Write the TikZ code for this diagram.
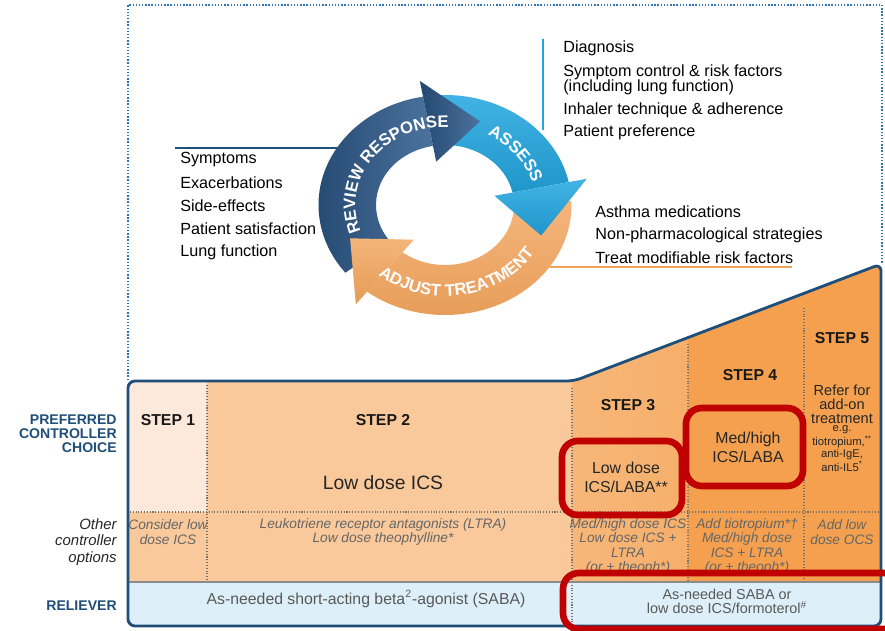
\documentclass[tikz,border=0pt]{standalone}
\usepackage{fontspec}
\setmainfont{Liberation Sans}
\usetikzlibrary{positioning,decorations.text}
\definecolor{navy}{HTML}{1F4E79}
\definecolor{cycrev}{HTML}{2C5A8C}
\definecolor{cycass}{HTML}{22A6E0}
\definecolor{cycadj}{HTML}{F2A35A}
\definecolor{pale}{HTML}{FDE9DB}
\definecolor{peach}{HTML}{F9C99B}
\definecolor{tang}{HTML}{F6AF6A}
\definecolor{deep}{HTML}{F4A04E}
\definecolor{sky}{HTML}{DDEFF9}
\definecolor{redx}{HTML}{C00000}
\definecolor{frameblue}{HTML}{2E75B6}
\newcommand{\fs}[2]{\fontsize{#1}{#2}\selectfont}
% ring segment of the cycle and its arrow head
\newcommand{\ringbody}[3]{\shade[#3] (#1:60) arc[start angle=#1,end angle=#2,radius=60] -- (#2:110) arc[start angle=#2,end angle=#1,radius=110] -- cycle;}
\newcommand{\ringhead}[3]{\shade[#3] (#1:44) -- (#1:126) -- (#2:89) -- cycle;}
\tikzset{
  item/.style={anchor=west,inner sep=0pt,font=\fs{9.2}{10}},
  steplbl/.style={font=\bfseries\fs{9}{10},text=black!90},
  choice/.style={align=center,font=\fs{9}{10.8},text=black!85},
  opt/.style={align=center,font=\itshape\fs{7.8}{8.2},text=black!60,inner sep=0pt},
  rowlbl/.style={anchor=east,align=right,font=\bfseries\fs{8}{8},text=navy,inner sep=0pt},
  dotln/.style={draw=black!55,densely dotted,line width=0.6pt},
  redbox/.style={draw=redx,line width=3.8pt,rounded corners=9pt},
  revshade/.style={left color=cycrev!80!black,right color=cycrev!85!white},
  assshade/.style={top color=cycass!85!white,bottom color=cycass!90!black},
  adjshade/.style={top color=cycadj!80!white,bottom color=cycadj!95!black},
  ringtxt/.style={decorate,decoration={text along path,text align=center,text color=white,text={#1}}},
}

\begin{document}
\begin{tikzpicture}[x=0.02cm,y=-0.02cm]
  \useasboundingbox (0,0) rectangle (885,631);
  \draw[frameblue,densely dotted,line width=0.8pt] (128,380) -- (128,5) -- (882,5) -- (882,264);

  % guide lines of the three lists
  \coordinate (revL) at (175,148);
  \coordinate (revR) at (345,148);
  \coordinate (assT) at (543,39);
  \coordinate (assB) at (543,130);
  \coordinate (adjL) at (550,267);
  \coordinate (adjR) at (792,267);
  \draw[navy,line width=0.9pt] (revL) -- (revR);
  \draw[cycass,line width=1pt] (assT) -- (assB);
  \draw[cycadj,line width=1.4pt] (adjL) -- (adjR);

  % the cycle
  \begin{scope}[shift={(445,205)},xscale=1.15,yscale=-1]
    \ringbody{2}{-128}{adjshade}
    \ringbody{92}{12}{assshade}
    \ringbody{218}{100}{revshade}
    \ringhead{100}{70}{revshade}
    \ringhead{12}{-20}{assshade}
    \ringhead{-128}{-158}{adjshade}
    \path[ringtxt={|\bfseries\fs{9.5}{11}|REVIEW RESPONSE}]
      (230:78) arc[start angle=230,end angle=60,radius=78];
    \path[ringtxt={|\bfseries\fs{9.5}{11}|ASSESS}]
      (78:79) arc[start angle=78,end angle=-2,radius=79];
    \path[ringtxt={|\bfseries\fs{9.5}{11}|ADJUST TREATMENT}]
      (-170:91) arc[start angle=-170,end angle=10,radius=91];
  \end{scope}

  \foreach \t [count=\i] in {Symptoms,Exacerbations,Side-effects,Patient satisfaction,Lung function}
    \node[item] (rv\i) at (180,{137+23*\i}) {\t};
  \node[item] (dx) at (563,48) {Diagnosis};
  \node[item,align=left,font=\fs{9.2}{8.6}] (sc) at (563,79.5) {Symptom control \& risk factors\\(including lung function)};
  \node[item] (ih) at (563,110) {Inhaler technique \& adherence};
  \node[item] (pp) at (563,132) {Patient preference};
  \node[item] (am) at (595,212) {Asthma medications};
  \node[item] (np) at (595,235) {Non-pharmacological strategies};
  \node[item] (tm) at (595,258) {Treat modifiable risk factors};

  % treatment steps
  \begin{scope}
    \clip[rounded corners=4pt] (128,626) -- (128,381) -- (574,381) -- (881,264) -- (881,626) -- cycle;
    \fill[pale] (128,250) rectangle (207,512);
    \fill[peach] (128,512) rectangle (572,582);
    \fill[peach] (207,250) rectangle (572,512);
    \shade[left color=tang!70!peach,right color=tang] (572,250) rectangle (688,582);
    \fill[deep] (688,250) rectangle (882,582);
    \fill[sky] (128,582) rectangle (882,626);
  \end{scope}
  \draw[dotln] (207,385) -- (207,582);
  \draw[dotln] (572,388) -- (572,626);
  \draw[dotln] (688,344) -- (688,582);
  \draw[dotln] (804,308) -- (804,582);
  \draw[dotln] (130,512) -- (880,512);
  \draw[black!45,line width=0.6pt] (128,582) -- (881,582);
  \draw[navy,line width=1.6pt,rounded corners=4pt] (128,626) -- (128,381) -- (574,381) -- (881,264) -- (881,626) -- cycle;

  \node[steplbl] (s1) at (168,420) {STEP 1};
  \node[steplbl] (s2) at (383,420) {STEP 2};
  \node[steplbl] (s3) at (628,405) {STEP 3};
  \node[steplbl] (s4) at (750,375) {STEP 4};
  \node[steplbl] (s5) at (842,338) {STEP 5};

  \node[choice,font=\fs{11}{13}] (c2) at (383,483) {Low dose ICS};
  \node[choice,font=\fs{9}{10.8}] (c3) at (626,477.5) {Low dose\\ICS/LABA**};
  \node[choice,font=\fs{9}{10.8}] (c4) at (748,447.5) {Med/high\\ICS/LABA};
  \node[choice,font=\fs{8.3}{8}] (c5) at (842,404) {Refer for\\add-on\\treatment};
  \node[choice,font=\fs{6.4}{6.6}] (c5x) at (842,448.5) {e.g.\\tiotropium,\textsuperscript{**}\\anti-IgE,\\anti-IL5\textsuperscript{*}};

  \node[opt] (o1) at (168,532) {Consider low\\dose ICS};
  \node[opt] (o2) at (383,532) {Leukotriene receptor antagonists (LTRA)\\Low dose theophylline*};
  \node[opt] (o3) at (628,546.5) {Med/high dose ICS\\Low dose ICS +\\LTRA\\(or + theoph*)};
  \node[opt] (o4) at (747,546.5) {Add tiotropium*†\\Med/high dose\\ICS + LTRA\\(or + theoph*)};
  \node[opt] (o5) at (842,532) {Add low\\dose OCS};

  \node[choice,text=black!65] (r1) at (366,599) {As-needed short-acting beta\textsuperscript{2}-agonist (SABA)};
  \node[choice,text=black!65,font=\fs{8.2}{7.7}] (r2) at (727,601.5) {As-needed SABA or\\low dose ICS/formoterol\textsuperscript{\#}};

  \node[rowlbl] (pref) at (117,434) {PREFERRED\\CONTROLLER\\CHOICE};
  \node[rowlbl,font=\itshape\fs{8.5}{9.2},text=black!85] (other) at (117,542) {Other\\controller\\options};
  \node[rowlbl] (relv) at (117,606) {RELIEVER};

  \draw[redbox] (562,441) rectangle (682,515);
  \draw[redbox] (686,408) rectangle (803,486);
  \draw[redbox] (563,573) rectangle (905,629);
\end{tikzpicture}
\end{document}
